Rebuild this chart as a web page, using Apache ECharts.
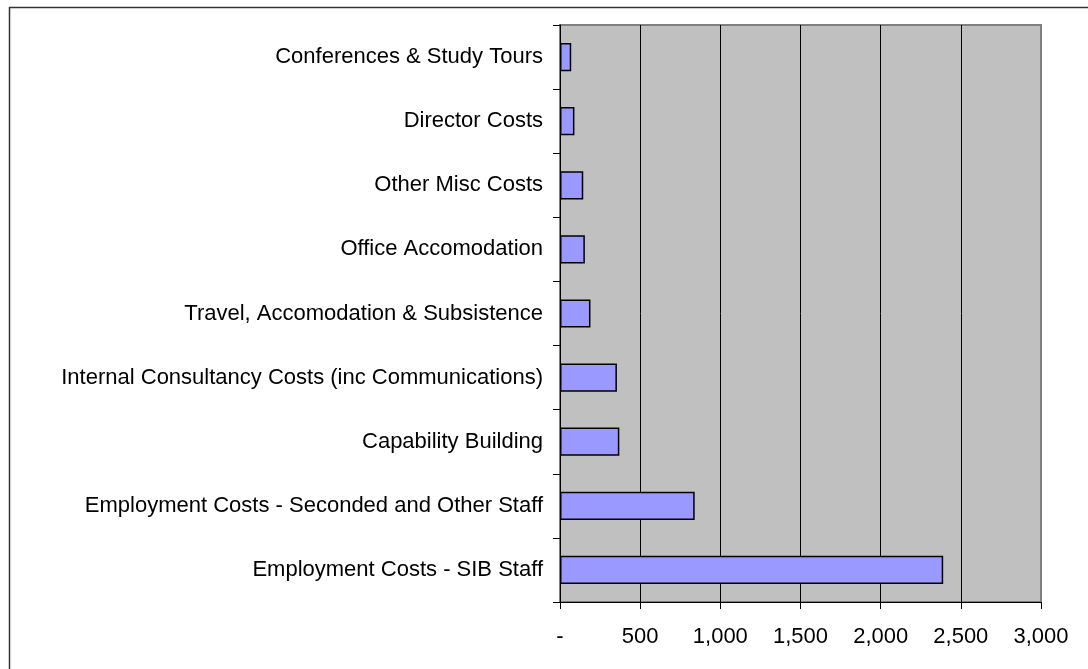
<!DOCTYPE html>
<html>
<head>
<meta charset="utf-8">
<script src="https://cdn.jsdelivr.net/npm/echarts@6/dist/echarts.min.js"></script>
<style>
html,body{margin:0;padding:0;background:#fff;}
#chart{width:1088px;height:669px;}
</style>
</head>
<body>
<div id="chart"></div>
<script>
// Categories listed top to bottom as in the picture
const categories = [
  'Conferences & Study Tours',
  'Director Costs',
  'Other Misc Costs',
  'Office Accomodation',
  'Travel, Accomodation & Subsistence',
  'Internal Consultancy Costs (inc Communications)',
  'Capability Building',
  'Employment Costs - Seconded and Other Staff',
  'Employment Costs - SIB Staff'
];
const costValues = [70, 90, 145, 155, 190, 355, 370, 840, 2390];
const xTickValues = [0, 500, 1000, 1500, 2000, 2500, 3000];
const xTickLabels = ['-', '500', '1,000', '1,500', '2,000', '2,500', '3,000'];

const chart = echarts.init(document.getElementById('chart'), null, {renderer: 'canvas'});
const FONT = 'Liberation Sans, Arial, sans-serif';
chart.setOption({
  animation: false,
  backgroundColor: '#ffffff',
  graphic: [{
    type: 'rect',
    shape: {x: 9.5, y: 7.5, width: 1200, height: 1000},
    style: {fill: 'none', stroke: '#333333', lineWidth: 1.5},
    silent: true, z: -10
  }],
  grid: {
    left: 560, top: 25, right: 47, bottom: 67,
    show: true,
    backgroundColor: '#C0C0C0',
    borderColor: '#808080',
    borderWidth: 2,
    containLabel: false
  },
  xAxis: {
    type: 'value',
    min: 0, max: 3000, interval: 500,
    axisLine: {show: true, onZero: false, lineStyle: {color: '#000', width: 1}},
    axisTick: {show: true, length: 7, lineStyle: {color: '#000'}},
    axisLabel: {
      margin: 24,
      color: '#000',
      fontFamily: FONT,
      fontSize: 22,
      formatter: function (v) {
        const i = xTickValues.indexOf(v);
        return i >= 0 ? xTickLabels[i] : '';
      }
    },
    splitLine: {show: true, showMinLine: false, showMaxLine: false, lineStyle: {color: '#000', width: 1}}
  },
  yAxis: {
    type: 'category',
    data: categories,
    inverse: true,
    axisLine: {show: true, lineStyle: {color: '#000', width: 1}},
    axisTick: {show: true, length: 7, lineStyle: {color: '#000'}},
    axisLabel: {
      margin: 17,
      color: '#000',
      fontFamily: FONT,
      fontSize: 22
    },
    splitLine: {show: false}
  },
  series: [{
    type: 'bar',
    data: costValues,
    barCategoryGap: '56%',
    itemStyle: {color: '#9999FF', borderColor: '#000', borderWidth: 1.5},
    emphasis: {disabled: true}
  }]
});
</script>
</body>
</html>
